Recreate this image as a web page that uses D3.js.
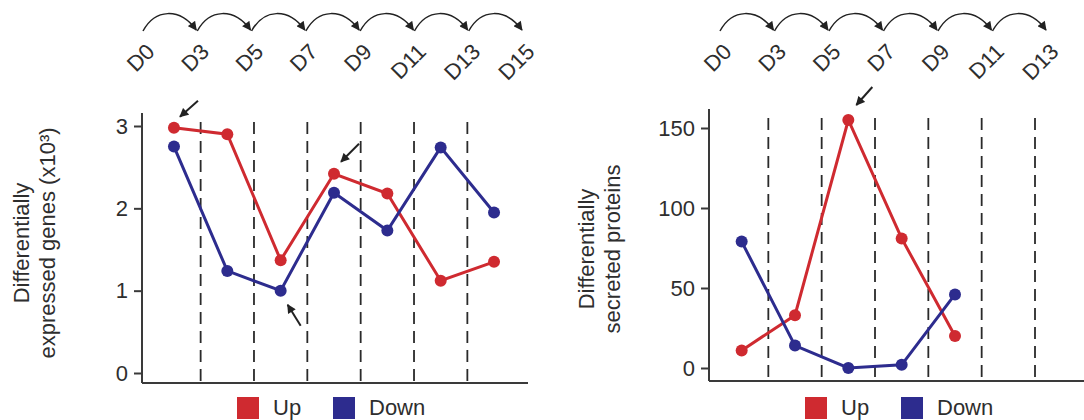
<!DOCTYPE html>
<html>
<head>
<meta charset="utf-8">
<script src="https://cdn.jsdelivr.net/npm/d3@7"></script>
<style>
  body { margin: 0; background: #fff; }
  svg text { font-family: "Liberation Sans", Arial, sans-serif; fill: #2e2e2e; }
</style>
</head>
<body>
<script>
// time points shown on top, values per interval (D0->D3, D3->D5, ...)
var leftTimes = ["D0", "D3", "D5", "D7", "D9", "D11", "D13", "D15"];
var leftUp = [2.98, 2.90, 1.37, 2.42, 2.18, 1.12, 1.35];
var leftDown = [2.75, 1.24, 1.00, 2.19, 1.73, 2.74, 1.95];
var leftTicks = [0, 1, 2, 3];

var rightTimes = ["D0", "D3", "D5", "D7", "D9", "D11", "D13"];
var rightUp = [11, 33, 155, 81, 20];
var rightDown = [79, 14, 0, 2, 46];
var rightTicks = [0, 50, 100, 150];

var seriesNames = ["Up", "Down"];
var colors = {Up: "#cf2a30", Down: "#2d2c8e"};

var w = 1084, h = 420;

var svg = d3.select("body").append("svg")
    .attr("width", w)
    .attr("height", h);

var defs = svg.append("defs");
defs.append("marker")
    .attr("id", "head")
    .attr("viewBox", "0 0 10 10")
    .attr("refX", 9)
    .attr("refY", 5)
    .attr("markerUnits", "userSpaceOnUse")
    .attr("markerWidth", 10)
    .attr("markerHeight", 9)
    .attr("orient", "auto")
    .append("path")
    .attr("d", "M0,0 L10,5 L0,10 Z")
    .attr("fill", "#222");

function drawPanel(p) {
  var g = svg.append("g");
  var intervals = d3.pairs(p.times).map(function(d) { return d[0] + "-" + d[1]; });

  var x = d3.scaleBand().domain(intervals).range([p.bandStart, p.bandEnd]);
  var y = d3.scaleLinear().domain(p.domain).range([p.yZero, p.yMax]);
  var top = d3.scalePoint().domain(p.times).range([p.arcStart, p.arcEnd]);

  // dashed separators at right edge of first 6 bands
  g.selectAll(".sep")
    .data(intervals.slice(0, 6))
    .enter().append("line")
    .attr("x1", function(d) { return x(d) + x.bandwidth(); })
    .attr("x2", function(d) { return x(d) + x.bandwidth(); })
    .attr("y1", p.dashTop)
    .attr("y2", p.base)
    .attr("stroke", "#2a2a2a")
    .attr("stroke-width", 1.8)
    .attr("stroke-dasharray", "12,7");

  // axes
  g.append("line")
    .attr("x1", p.axisX).attr("x2", p.axisEnd)
    .attr("y1", p.base).attr("y2", p.base)
    .attr("stroke", "#3a3a3a").attr("stroke-width", 2);

  var ya = g.append("g")
    .attr("transform", "translate(" + p.axisX + ",0)")
    .call(d3.axisLeft(y).tickValues(p.ticks).tickFormat(d3.format("d")).tickSize(8).tickPadding(6));
  ya.select(".domain").remove();
  ya.append("line")
    .attr("x1", 0).attr("x2", 0)
    .attr("y1", p.axisTop).attr("y2", p.base)
    .attr("stroke", "#3a3a3a").attr("stroke-width", 2);
  ya.selectAll(".tick line").attr("stroke", "#3a3a3a").attr("stroke-width", 2);
  ya.selectAll(".tick text")
    .style("font-size", "22px")
    .attr("fill", "#2e2e2e");

  // y title
  var tt = g.append("text")
    .attr("transform", "translate(" + p.titleX + "," + p.titleY + ") rotate(-90)")
    .attr("text-anchor", "middle")
    .style("font-size", "22px");
  p.title.forEach(function(line, i) {
    tt.append("tspan").attr("x", 0).attr("dy", i == 0 ? 0 : 26).text(line);
  });

  // lines + dots
  var line = d3.line()
    .x(function(d, i) { return x(intervals[i]) + x.bandwidth() / 2; })
    .y(function(d) { return y(d); });

  seriesNames.forEach(function(s) {
    var vals = p.values[s];
    g.append("path")
      .datum(vals)
      .attr("d", line)
      .attr("fill", "none")
      .attr("stroke", colors[s])
      .attr("stroke-width", 3);
    g.selectAll(".dot-" + s)
      .data(vals)
      .enter().append("circle")
      .attr("cx", function(d, i) { return x(intervals[i]) + x.bandwidth() / 2; })
      .attr("cy", function(d) { return y(d); })
      .attr("r", 6)
      .attr("fill", colors[s]);
  });

  // annotation arrows pointing at points
  p.arrows.forEach(function(a) {
    var px = x(intervals[a.i]) + x.bandwidth() / 2;
    var py = y(p.values[a.series][a.i]);
    g.append("line")
      .attr("x1", px + a.from[0]).attr("y1", py + a.from[1])
      .attr("x2", px + a.to[0]).attr("y2", py + a.to[1])
      .attr("stroke", "#222").attr("stroke-width", 2)
      .attr("marker-end", "url(#head)");
  });

  // top time arrows
  d3.pairs(p.times).forEach(function(pr) {
    var a = top(pr[0]), b = top(pr[1]);
    g.append("path")
      .attr("d", "M" + a + ",31 C" + (a + 12) + ",9 " + (b - 18) + ",7 " + (b - 1) + ",30")
      .attr("fill", "none")
      .attr("stroke", "#222")
      .attr("stroke-width", 1.5)
      .attr("marker-end", "url(#head)");
  });

  g.selectAll(".tlab")
    .data(p.times)
    .enter().append("text")
    .attr("transform", function(d) { return "translate(" + (top(d) + 13) + ",53) rotate(-45)"; })
    .attr("text-anchor", "end")
    .style("font-size", "22px")
    .text(function(d) { return d; });

  // legend
  var leg = g.append("g").attr("transform", "translate(" + p.legendX + ",397)");
  seriesNames.forEach(function(s, i) {
    leg.append("rect")
      .attr("x", i * 96 - 96)
      .attr("y", 0)
      .attr("width", 22)
      .attr("height", 22)
      .attr("fill", colors[s]);
    leg.append("text")
      .attr("x", i * 96 - 60)
      .attr("y", 18)
      .style("font-size", "22px")
      .text(s);
  });
}

drawPanel({
  times: leftTimes,
  values: {Up: leftUp, Down: leftDown},
  ticks: leftTicks,
  domain: [0, 3],
  yZero: 373, yMax: 126,
  bandStart: 147.3, bandEnd: 520.7,
  axisX: 142, axisEnd: 528, axisTop: 113, base: 383, dashTop: 122,
  arcStart: 143, arcEnd: 523,
  title: ["Differentially", "expressed genes (x10\u00B3)"],
  titleX: 29, titleY: 243,
  legendX: 333,
  arrows: [
    {series: "Up", i: 0, from: [24, -27], to: [6, -11]},
    {series: "Up", i: 3, from: [25, -30], to: [7, -12]},
    {series: "Down", i: 2, from: [20, 35], to: [7, 14]}
  ]
});

drawPanel({
  times: rightTimes,
  values: {Up: rightUp, Down: rightDown},
  ticks: rightTicks,
  domain: [0, 150],
  yZero: 368, yMax: 128,
  bandStart: 715, bandEnd: 1035,
  axisX: 709, axisEnd: 1084, axisTop: 109, base: 381, dashTop: 118,
  arcStart: 720, arcEnd: 1047,
  title: ["Differentially", "secreted proteins"],
  titleX: 594, titleY: 249,
  legendX: 901,
  arrows: [
    {series: "Up", i: 2, from: [24, -33], to: [8, -15]}
  ]
});
</script>
</body>
</html>
